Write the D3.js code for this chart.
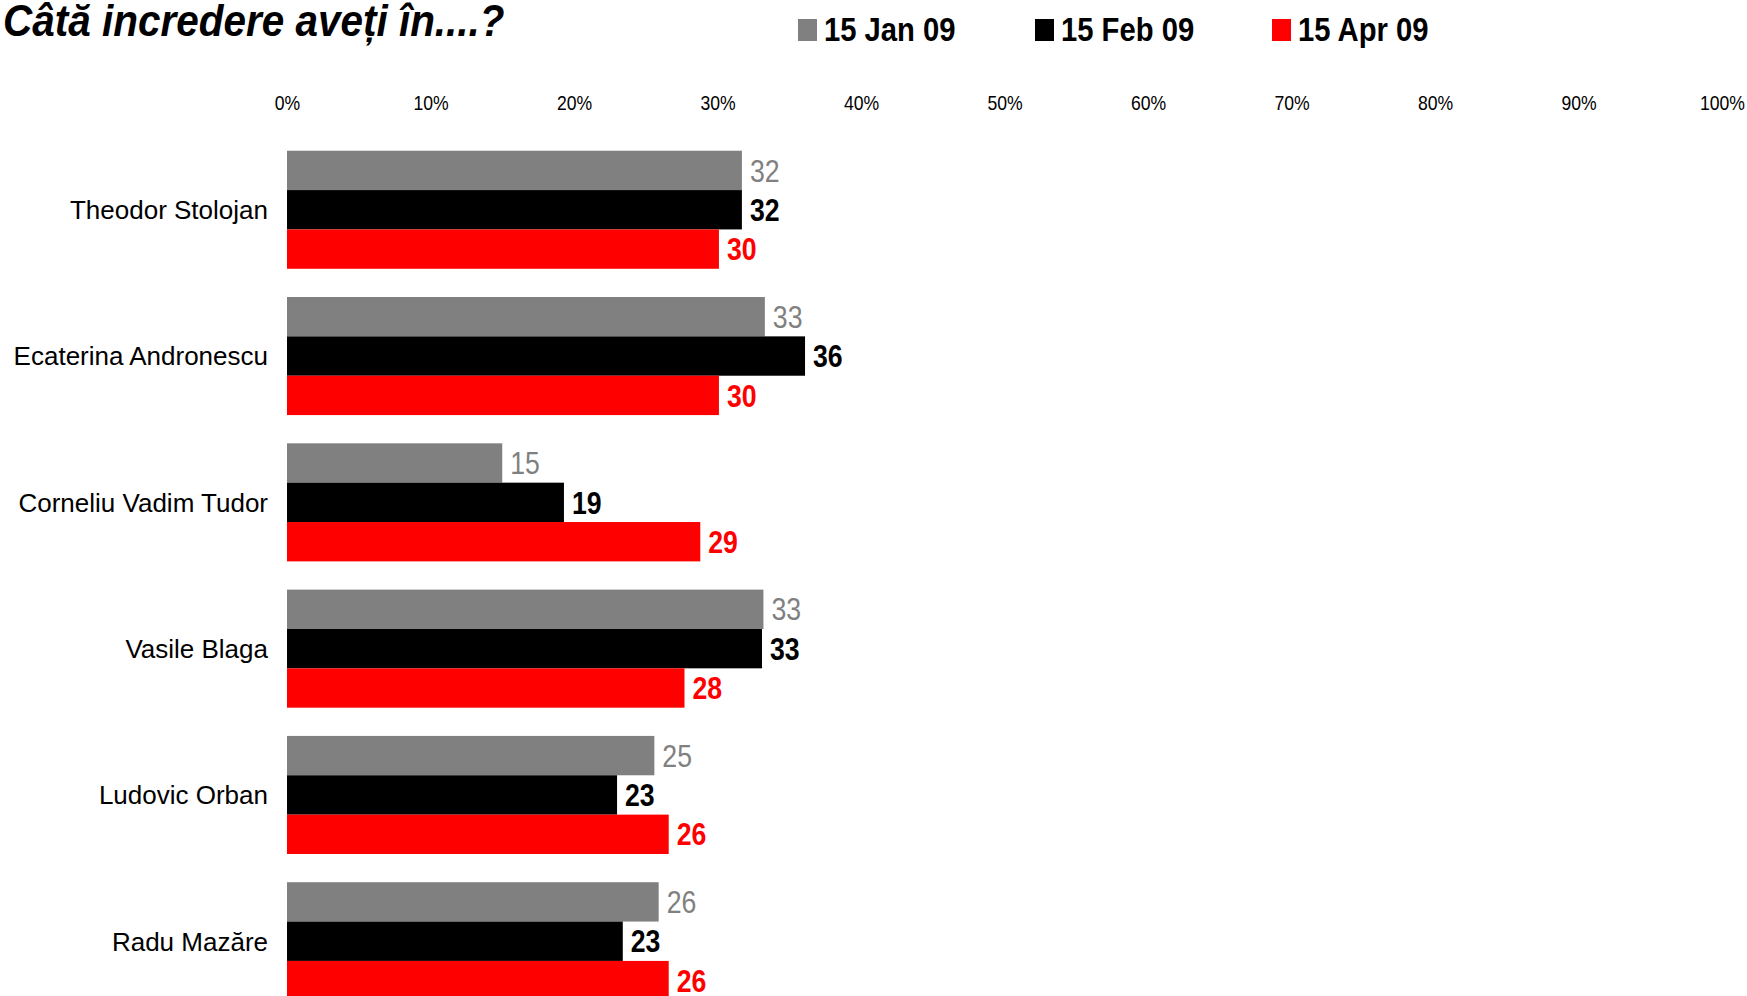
<!DOCTYPE html>
<html>
<head>
<meta charset="utf-8">
<script src="https://cdn.jsdelivr.net/npm/d3@7"></script>
<style>
  body { margin: 0; background: #fff; }
  svg { display: block; }
  text { font-family: "Liberation Sans", Arial, sans-serif; }
</style>
</head>
<body>
<script>
// categories and series (bar lengths, labels as printed)
var categories = ["Theodor Stolojan", "Ecaterina Andronescu", "Corneliu Vadim Tudor",
                  "Vasile Blaga", "Ludovic Orban", "Radu Mazăre"];
var seriesNames = ["15 Jan 09", "15 Feb 09", "15 Apr 09"];
var seriesColors = ["#808080", "#000000", "#ff0000"];
var jan = [31.7, 33.3, 15.0, 33.2, 25.6, 25.9];
var feb = [31.7, 36.1, 19.3, 33.1, 23.0, 23.4];
var apr = [30.1, 30.1, 28.8, 27.7, 26.6, 26.6];
var janLabels = ["32", "33", "15", "33", "25", "26"];
var febLabels = ["32", "36", "19", "33", "23", "23"];
var aprLabels = ["30", "30", "29", "28", "26", "26"];
var tickValues = [0, 10, 20, 30, 40, 50, 60, 70, 80, 90, 100];

var W = 1747, H = 996;
var narrow = 0.86; // squeeze to mimic a narrow face

function place(px, py, s) {
  return "translate(" + px + "," + py + ") scale(" + s + ",1)";
}

var svg = d3.select("body").append("svg")
    .attr("width", W)
    .attr("height", H);

// scales
var x = d3.scaleLinear().domain([0, 100]).range([287, 1722]);
var step = 146.3;
var y = d3.scaleBand()
    .domain(categories)
    .range([136.6, 136.6 + step * categories.length])
    .paddingInner(0.193)
    .paddingOuter(0.0965);
var ySub = d3.scaleBand()
    .domain(seriesNames)
    .range([0, y.bandwidth()]);

// title
svg.append("text")
    .attr("transform", place(3, 36, 0.92))
    .style("font-size", "44px")
    .style("font-weight", "bold")
    .style("font-style", "italic")
    .text("Câtă incredere aveți în....?");

// legend
var legend = svg.selectAll(".legend")
    .data(seriesNames)
  .enter().append("g")
    .attr("class", "legend")
    .attr("transform", function(d, i) { return "translate(" + (798 + i * 237) + ",0)"; });
legend.append("rect")
    .attr("y", 19)
    .attr("width", 19)
    .attr("height", 22)
    .attr("fill", function(d, i) { return seriesColors[i]; });
legend.append("text")
    .attr("transform", place(26, 41, narrow))
    .style("font-size", "34px")
    .style("font-weight", "bold")
    .text(function(d) { return d; });

// top axis, labels only
var axis = svg.append("g")
    .attr("transform", "translate(0,110)")
    .call(d3.axisTop(x).tickValues(tickValues).tickSize(0).tickPadding(0)
            .tickFormat(function(d) { return d + "%"; }));
axis.select(".domain").remove();
axis.selectAll("text")
    .attr("transform", "scale(0.88,1)")
    .style("font-family", "\"Liberation Sans\", Arial, sans-serif")
    .style("font-size", "20px")
    .attr("fill", "#000");

// category labels
svg.selectAll(".cat")
    .data(categories)
  .enter().append("text")
    .attr("class", "cat")
    .attr("x", 268)
    .attr("y", function(d) { return y(d) + y.bandwidth() / 2; })
    .attr("dy", "0.36em")
    .attr("text-anchor", "end")
    .style("font-size", "26px")
    .text(function(d) { return d; });

// bars
var rows = categories.map(function(c, i) {
  return {
    name: c,
    values: [
      {series: seriesNames[0], value: jan[i], label: janLabels[i], color: seriesColors[0], weight: "normal"},
      {series: seriesNames[1], value: feb[i], label: febLabels[i], color: seriesColors[1], weight: "bold"},
      {series: seriesNames[2], value: apr[i], label: aprLabels[i], color: seriesColors[2], weight: "bold"}
    ]
  };
});

var group = svg.selectAll(".group")
    .data(rows)
  .enter().append("g")
    .attr("class", "group")
    .attr("transform", function(d) { return "translate(0," + y(d.name) + ")"; });

group.selectAll("rect")
    .data(function(d) { return d.values; })
  .enter().append("rect")
    .attr("x", x(0))
    .attr("y", function(d) { return ySub(d.series); })
    .attr("width", function(d) { return x(d.value) - x(0); })
    .attr("height", ySub.bandwidth())
    .attr("fill", function(d) { return d.color; });

group.selectAll(".val")
    .data(function(d) { return d.values; })
  .enter().append("text")
    .attr("class", "val")
    .attr("transform", function(d) {
      return place(x(d.value) + 8, ySub(d.series) + ySub.bandwidth() / 2, narrow);
    })
    .attr("dy", "0.36em")
    .attr("fill", function(d) { return d.color; })
    .style("font-size", "31px")
    .style("font-weight", function(d) { return d.weight; })
    .text(function(d) { return d.label; });
</script>
</body>
</html>
